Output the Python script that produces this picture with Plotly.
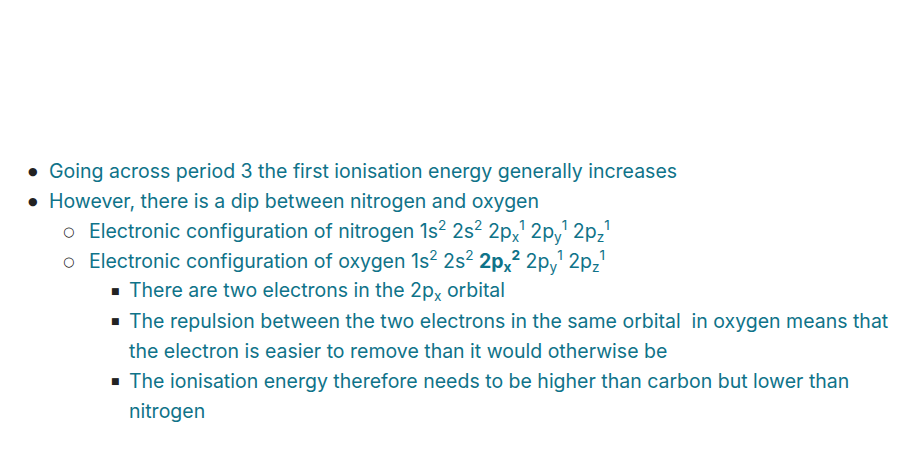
import plotly.graph_objects as go

W, H = 912, 451
DARK = "#2b2b2b"
TEAL = "#0f7389"
PURPLE = "#7030c0"
GREEN = "#1d8a2e"

# text lines: (indent level, marker, text)
header_lines = [
    "A value for the first ionisation energy of oxygen given the data in the table is:",
    "• (Estimated value) between 1100 – 1380 (kJ mol<sup>−1</sup>); "
    f"<span style='color:{PURPLE}'>[1 mark]</span>",
    f"<b><span style='color:{GREEN}'>[Total 1: mark]</span></b>",
]
bullet_lines = [
    (1, "Going across period 3 the first ionisation energy generally increases"),
    (1, "However, there is a dip between nitrogen and oxygen"),
    (2, "Electronic configuration of nitrogen 1s<sup>2</sup> 2s<sup>2</sup> 2p<sub>x</sub><sup>1</sup> 2p<sub>y</sub><sup>1</sup> 2p<sub>z</sub><sup>1</sup>"),
    (2, "Electronic configuration of oxygen 1s<sup>2</sup> 2s<sup>2</sup> <b>2p<sub>x</sub><sup>2</sup></b> 2p<sub>y</sub><sup>1</sup> 2p<sub>z</sub><sup>1</sup>"),
    (3, "There are two electrons in the 2p<sub>x</sub> orbital"),
    (3, "The repulsion between the two electrons in the same orbital  in oxygen means that"),
    (0, "the electron is easier to remove than it would otherwise be"),
    (3, "The ionisation energy therefore needs to be higher than carbon but lower than"),
    (0, "nitrogen"),
]

FONT = "Inter"
SIZE = 19.5
DX, DY = -10, -9  # compensate annotation offset
fig = go.Figure()
ann = []
for i, t in enumerate(header_lines):
    y = [22, 72, 123][i] + DY
    ann.append(dict(x=(8 + DX) / W, y=1 - y / H, text=t, showarrow=False, xanchor="left",
                    yanchor="middle", font=dict(family=FONT, size=SIZE, color=DARK)))

markers = {1: ("●", 35, 49, 11), 2: ("○", 70, 89, 13), 3: ("■", 117, 129, 9)}
level_prev = 3
for i, (lvl, t) in enumerate(bullet_lines):
    y = 172 + 30 * i + DY
    if lvl == 0:
        tx = markers[level_prev][2]
    else:
        m, mx, tx, ms = markers[lvl]
        level_prev = lvl
        ann.append(dict(x=(mx + DX) / W, y=1 - y / H, text=m, showarrow=False, xanchor="center",
                        yanchor="middle", font=dict(family="DejaVu Sans", size=ms, color="#222")))
    ann.append(dict(x=(tx + DX) / W, y=1 - y / H, text=t, showarrow=False, xanchor="left",
                    yanchor="middle", font=dict(family=FONT, size=SIZE, color=TEAL)))

fig.update_layout(width=W, height=H, margin=dict(l=0, r=0, t=0, b=0),
                  paper_bgcolor="white", plot_bgcolor="white", annotations=ann,
                  xaxis=dict(visible=False, range=[0, 1]), yaxis=dict(visible=False, range=[0, 1]))
fig.write_html("out.html")
